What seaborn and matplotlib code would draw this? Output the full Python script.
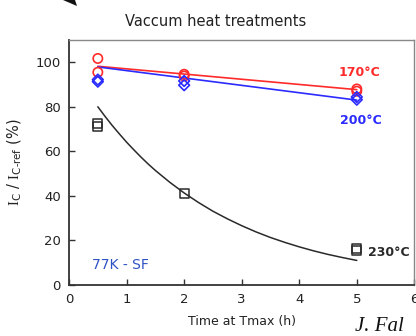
import matplotlib
matplotlib.use("Agg")
import matplotlib.pyplot as plt
from matplotlib.patches import Polygon
import seaborn as sns

sns.set_theme(style="ticks")
plt.rcParams["font.family"] = ["DejaVu Sans"]
plt.rcParams["mathtext.fontset"] = "custom"
plt.rcParams["mathtext.rm"] = "Liberation Serif"
plt.rcParams["mathtext.sf"] = "DejaVu Sans"

# Measurements: Ic retention after vacuum heat treatment (77 K, self field)
t_170 = [0.5, 0.5, 2, 2, 5, 5]
ic_170 = [101.7, 95.5, 94.6, 93.8, 88.0, 87.0]
t_200 = [0.5, 0.5, 2, 2, 5, 5]
ic_200 = [92.2, 91.3, 91.6, 89.7, 84.4, 83.2]
t_230 = [0.5, 0.5, 2, 5, 5]
ic_230 = [72.3, 71.0, 41.2, 16.3, 15.3]

# Trend lines
trend_t_lin = [0.5, 5]
trend_170 = [98.2, 87.7]
trend_200 = [97.9, 83.0]
trend_t_230 = [0.5, 0.625, 0.75, 0.875, 1.0, 1.125, 1.25, 1.375, 1.5, 1.75, 2.0,
               2.25, 2.5, 2.75, 3.0, 3.25, 3.5, 3.75, 4.0, 4.25, 4.5, 4.75, 5.0]
trend_230 = [80.0, 75.7, 71.6, 67.8, 64.1, 60.7, 57.4, 54.3, 51.4, 46.1, 41.3,
             37.0, 33.1, 29.7, 26.6, 23.8, 21.3, 19.1, 17.1, 15.3, 13.7, 12.3, 11.0]

x_ticks = [0, 1, 2, 3, 4, 5, 6]
y_ticks = [0, 20, 40, 60, 80, 100]

red = "#ff2a2a"
blue = "#2b2bff"
black = "#2a2a2a"

fig = plt.figure(figsize=(4.16, 3.36), dpi=100)
ax = fig.add_axes([0.166, 0.152, 0.830, 0.729])

sns.lineplot(x=trend_t_lin, y=trend_170, ax=ax, color=red, lw=1.2)
sns.lineplot(x=trend_t_lin, y=trend_200, ax=ax, color=blue, lw=1.2)
sns.lineplot(x=trend_t_230, y=trend_230, ax=ax, color=black, lw=1.1)

sns.scatterplot(x=t_170, y=ic_170, ax=ax, marker="o", s=45,
                facecolor="none", edgecolor=red, linewidth=1.2, zorder=3)
sns.scatterplot(x=t_200, y=ic_200, ax=ax, marker="D", s=30,
                facecolor="none", edgecolor=blue, linewidth=1.2, zorder=3)
sns.scatterplot(x=t_230, y=ic_230, ax=ax, marker="s", s=42,
                facecolor="none", edgecolor=black, linewidth=1.1, zorder=3)

ax.set_xlim(0, 6)
ax.set_ylim(0, 110)
ax.set_xticks(x_ticks)
ax.set_yticks(y_ticks)
ax.tick_params(direction="in", length=4, width=1, colors="#333333",
               labelsize=9.5, labelcolor="#222222", pad=6)
for side in ["left", "bottom"]:
    ax.spines[side].set_color("#333333")
    ax.spines[side].set_linewidth(1.3)
for side in ["top", "right"]:
    ax.spines[side].set_visible(True)
    ax.spines[side].set_color("#888888")
    ax.spines[side].set_linewidth(1.0)

ax.set_xlabel("Time at Tmax (h)", fontsize=9, color="#222222", labelpad=6)
ax.set_ylabel(r"$\mathrm{I}_{\mathsf{C}}$ / $\mathrm{I}_{\mathsf{C\text{-}ref}}$ (%)",
              fontsize=10.5, color="#222222", labelpad=8)

ax.text(5.05, 95.6, "170°C", color=red, fontsize=9, fontweight="bold",
        ha="center", va="center")
ax.text(5.07, 74.0, "200°C", color=blue, fontsize=9, fontweight="bold",
        ha="center", va="center")
ax.text(5.2, 14.5, "230°C", color=black, fontsize=9, fontweight="bold",
        ha="left", va="center")
ax.text(0.4, 9.0, "77K - SF", color="#2f52c4", fontsize=10,
        ha="left", va="center")

fig.text(0.518, 0.935, "Vaccum heat treatments", fontsize=10.5,
         color="#222222", ha="center", va="center")
fig.text(0.853, 0.028, "J. Fal", fontsize=15, family="Liberation Serif",
         style="italic", color="#111111", ha="left", va="center")

# arrow tip entering from the top edge
W, H = 416, 336
tip = [(63, 0), (75, 0), (77, 6)]
fig.patches.append(Polygon([(x / W, 1 - y / H) for x, y in tip], closed=True,
                           transform=fig.transFigure, facecolor="#111111",
                           edgecolor="none"))

fig.savefig("out.png", dpi=100)
